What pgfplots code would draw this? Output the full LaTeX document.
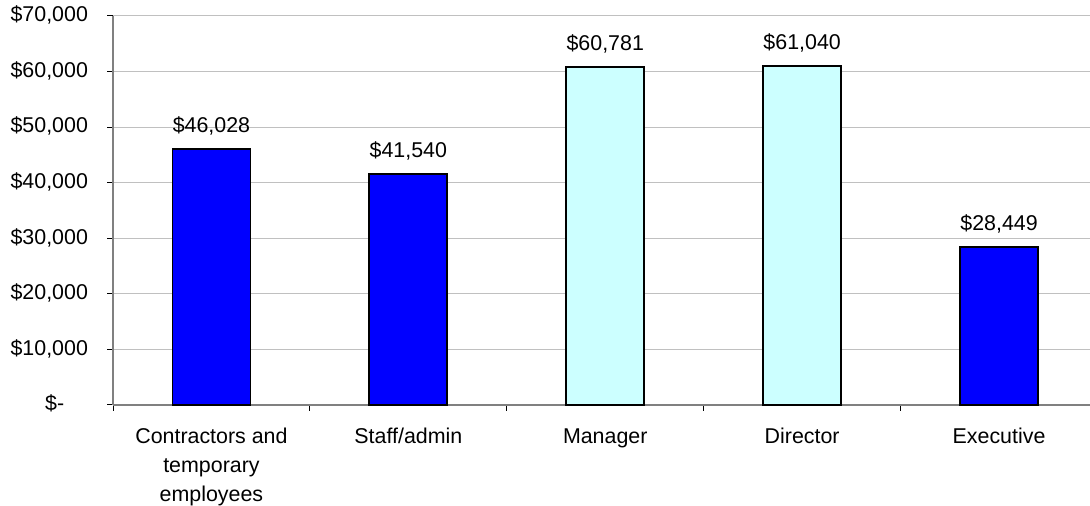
\documentclass[border=0pt]{standalone}
\usepackage{fontspec}
\setmainfont{Liberation Sans}
\usepackage{pgfplots}
\pgfplotsset{compat=1.18}
\definecolor{barblue}{RGB}{0,0,255}
\definecolor{barcyan}{RGB}{204,255,255}
\definecolor{gridgray}{RGB}{192,192,192}
\definecolor{axisgray}{RGB}{128,128,128}
\begin{document}
\begin{tikzpicture}[font=\fontsize{10.7}{14.5}\selectfont]
\begin{axis}[
  scale only axis, width=488.5pt, height=194.5pt,
  xmin=-0.5, xmax=4.462, ymin=0, ymax=70000,
  scaled y ticks=false,
  /pgf/number format/assume math mode=true,
  ytick={0,10000,...,70000},
  yticklabels={{\$-\phantom{00}},{\$10,000},{\$20,000},{\$30,000},{\$40,000},{\$50,000},{\$60,000},{\$70,000}},
  xtick={0,1,2,3,4},
  xticklabels={{Contractors and\\temporary\\employees},Staff/admin,Manager,Director,Executive},
  typeset ticklabels with strut,
  minor xtick={-0.5,0.5,1.5,2.5,3.5},
  tick align=outside, major tick length=3pt, minor tick length=3pt,
  every major x tick/.append style={draw=none},
  axis x line*=bottom, axis y line*=left,
  ymajorgrids, grid style={gridgray, line width=0.5pt},
  axis line style={axisgray, line width=0.8pt},
  tick style={black, line width=0.5pt},
  xticklabel style={align=center, anchor=north, yshift=-2.5pt, font=\fontsize{10.7}{14.5}\selectfont},
  yticklabel style={xshift=-6pt},
  clip=false,
  nodes near coords={\$\pgfmathprintnumber[fixed,precision=0,1000 sep={,},assume math mode=true]{\pgfplotspointmeta}},
  every node near coord/.append style={text=black, yshift=3pt, font=\fontsize{10.7}{14.5}\selectfont},
]
\addplot[ybar, bar width=0.396, bar shift=0pt, fill=barblue, draw=black, line width=0.9pt]
  coordinates {(0,46028) (1,41540) (4,28449)};
\addplot[ybar, bar width=0.396, bar shift=0pt, fill=barcyan, draw=black, line width=0.9pt]
  coordinates {(2,60781) (3,61040)};
\end{axis}
\pgfresetboundingbox
\path ([shift={(-56.5pt,-50.5pt)}]current axis.south west) rectangle ([shift={(0pt,8pt)}]current axis.north east);
\end{tikzpicture}
\end{document}
